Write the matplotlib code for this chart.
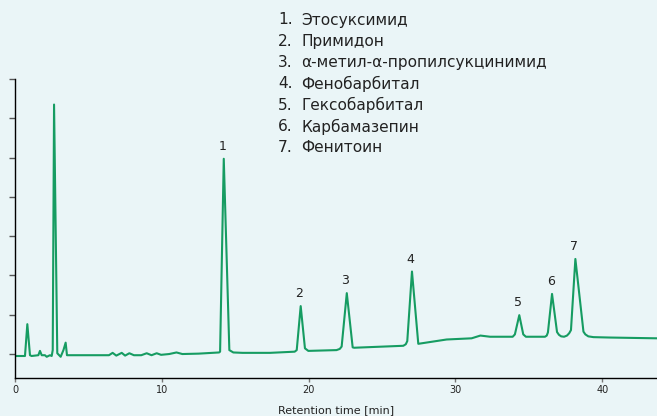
import matplotlib
matplotlib.use("Agg")
import matplotlib.pyplot as plt

# Chromatogram trace (time in min, signal in tick units)
time = [0.0, 0.68, 0.84, 1.02, 1.13, 1.59, 1.70, 1.82, 2.04, 2.16,
        2.38, 2.50, 2.57, 2.66, 2.88, 3.11, 3.30, 3.45, 3.54,
        6.4, 6.65, 6.9, 7.27, 7.5, 7.79, 8.1, 8.6, 8.97, 9.3, 9.65, 9.95,
        10.5, 11.0, 11.4, 12.5, 13.9, 13.97, 14.22, 14.6, 14.87, 15.5,
        17.37, 19.05, 19.19, 19.46, 19.75, 19.98,
        21.9, 22.12, 22.25, 22.6, 23.0, 23.1,
        26.45, 26.62, 26.72, 27.04, 27.47, 29.4, 31.1, 31.7, 32.36,
        33.9, 34.05, 34.35, 34.62, 34.8,
        36.1, 36.22, 36.30, 36.58, 36.92, 37.05, 37.2, 37.4, 37.6, 37.75,
        37.87, 38.17, 38.72, 38.85, 39.05, 39.4, 40.5, 43.73]
signal = [-0.05, -0.05, 0.76, -0.03, -0.05, -0.03, 0.08, -0.03, -0.03, -0.07,
          -0.03, -0.05, 0.10, 6.35, 0.02, -0.07, 0.10, 0.29, -0.03,
          -0.03, 0.03, -0.04, 0.03, -0.04, 0.02, -0.03, -0.03, 0.02, -0.03, 0.02, -0.02,
          0.00, 0.04, 0.00, 0.01, 0.04, 0.06, 4.97, 0.10, 0.04, 0.03,
          0.03, 0.06, 0.10, 1.22, 0.145, 0.08,
          0.10, 0.13, 0.19, 1.55, 0.17, 0.16,
          0.21, 0.25, 0.33, 2.10, 0.26, 0.37, 0.40, 0.47, 0.44,
          0.44, 0.50, 0.99, 0.50, 0.44,
          0.44, 0.47, 0.55, 1.53, 0.56, 0.49, 0.45, 0.44, 0.47, 0.53,
          0.61, 2.42, 0.57, 0.50, 0.45, 0.43, 0.42, 0.40]

# Numbered peaks
peak_labels = ["1", "2", "3", "4", "5", "6", "7"]
peak_times = [14.22, 19.46, 22.6, 27.04, 34.35, 36.58, 38.17]
peak_heights = [4.97, 1.22, 1.55, 2.10, 0.99, 1.53, 2.42]

compounds = ["Этосуксимид", "Примидон", "α-метил-α-пропилсукцинимид",
             "Фенобарбитал", "Гексобарбитал", "Карбамазепин", "Фенитоин"]

x_ticks = [0, 10, 20, 30, 40]
y_ticks = [0, 1, 2, 3, 4, 5, 6, 7]
x_label = "Retention time [min]"

BG = "#eaf5f7"
GREEN = "#169c62"
W, H = 657, 416

fig = plt.figure(figsize=(W / 100, H / 100), dpi=100, facecolor=BG)
ax = fig.add_axes([15 / W, (H - 378) / H, (W - 15) / W, (378 - 79) / H], facecolor=BG)

ax.plot(time, signal, color=GREEN, lw=1.5, solid_joinstyle="round")

for lab, t, h in zip(peak_labels, peak_times, peak_heights):
    ax.annotate(lab, (t, h), xytext=(-1, 9), textcoords="offset points",
                ha="center", va="center", fontsize=9, color="#222222")

ax.set_xlim(0, 43.73)
ax.set_ylim(-0.61, 7.0)
ax.set_xticks(x_ticks)
ax.set_yticks(y_ticks)
ax.set_yticklabels([])
ax.tick_params(axis="y", length=4, width=1, color="#555555", direction="out")
ax.tick_params(axis="x", length=3, width=1, color="#777777", direction="out",
               labelsize=7, pad=2, labelcolor="#222222")
ax.set_xlabel(x_label, fontsize=8, color="#222222", labelpad=7)
for s in ["top", "right"]:
    ax.spines[s].set_visible(False)
for s in ["left", "bottom"]:
    ax.spines[s].set_color("black")
    ax.spines[s].set_linewidth(1)

for i, name in enumerate(compounds):
    yp = 20 + i * 21.3
    fig.text(278 / W, 1 - yp / H, f"{i + 1}.", fontsize=11.1, color="#222222",
             ha="left", va="center")
    fig.text(301.5 / W, 1 - yp / H, name, fontsize=11.1, color="#222222",
             ha="left", va="center")

fig.savefig("out.png", dpi=100, facecolor=BG)
